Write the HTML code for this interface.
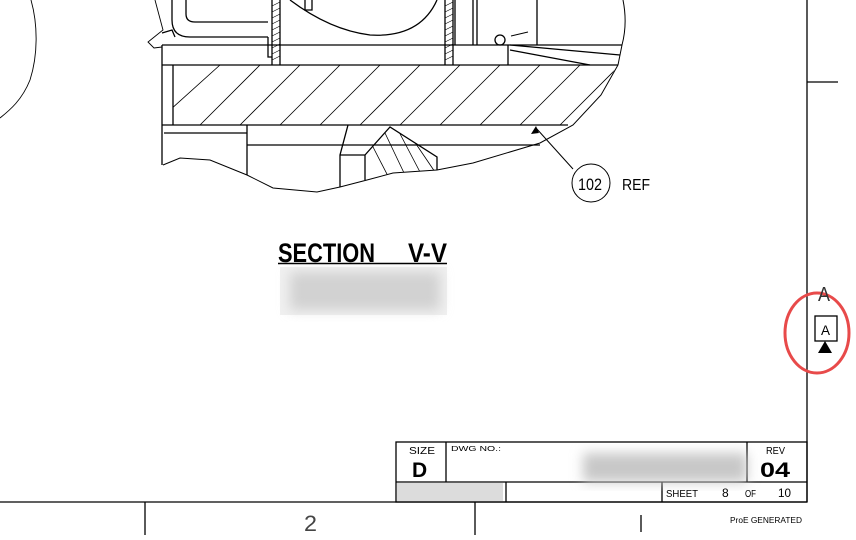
<!DOCTYPE html>
<html><head><meta charset="utf-8"><style>
html,body{margin:0;padding:0;background:#fff;}
svg{display:block;}
text{font-family:"Liberation Sans",sans-serif;fill:#000;}
</style></head><body>
<svg width="856" height="540" viewBox="0 0 856 540" xmlns="http://www.w3.org/2000/svg">
<defs>
<filter id="bl" x="-10%" y="-30%" width="120%" height="160%"><feGaussianBlur stdDeviation="6"/></filter>
<clipPath id="hc"><polygon points="173,65 617,65 601,95 573,125 173,125"/></clipPath>
<clipPath id="tc"><polygon points="365,155 390,127 437,157 437,170 393,173 367,180"/></clipPath>
</defs>
<g fill="none" stroke="#000" stroke-width="1.3">
<!-- left curve -->
<path d="M31,0 C38,25 38,55 30,80 C22,100 10,110 0,118" stroke-width="0.9"/>
<!-- borders -->
<line x1="807" y1="0" x2="807" y2="502"/>
<line x1="807" y1="82" x2="838" y2="82"/>
<line x1="0" y1="502" x2="807" y2="502"/>
<line x1="145" y1="502" x2="145" y2="535"/>
<line x1="475" y1="502" x2="475" y2="535"/>
<line x1="641" y1="515" x2="641" y2="532"/>
<!-- main block -->
<path d="M162,45 L622,45"/>
<path d="M162,65 L618,65"/>
<path d="M162,125 L568,125"/>
<path d="M162,45 L162,165"/>
<path d="M173,65 L173,125"/>
<path d="M623,0 C626,15 626,30 622,45 L618,65 L601,95 L573,125 L540,143 L473,163 L437,170 L393,173 L367,180 L340,187 L317,192 L273,188 L247,175 L210,160 L180,158 L163,165" stroke-width="1"/>
<path d="M164,133 L247,133 M247,125 L247,175 M247,145 L540,145"/>
<path d="M348,125 L340,155 L340,187 M340,155 L365,155 L365,180 M365,155 L390,127 L437,157 L437,170"/>
<g clip-path="url(#hc)" stroke-width="0.8">
<path d="M170,110 L220,65 M200,125 L260,65 M240,125 L300,65 M280,125 L340,65 M320,125 L380,65 M360,125 L420,65 M400,125 L460,65 M440,125 L500,65 M480,125 L540,65 M520,125 L580,65 M560,125 L620,65"/>
</g>
<g clip-path="url(#tc)" stroke-width="0.8">
<path d="M372,145 L390,180 M385,133 L405,175 M398,130 L420,172 M412,138 L435,172"/>
</g>
<!-- upper parts -->
<path d="M272,0 L272,65 M280,0 L280,65 M445,0 L445,65 M453,0 L453,65"/>
<g stroke-width="0.6"><path d="M272,6 L280,2 M272,12 L280,8 M272,18 L280,14 M272,24 L280,20 M272,30 L280,26 M272,36 L280,32 M272,42 L280,38 M272,48 L280,44 M272,54 L280,50 M272,60 L280,56 M445,6 L453,2 M445,12 L453,8 M445,18 L453,14 M445,24 L453,20 M445,30 L453,26 M445,36 L453,32 M445,42 L453,38 M445,48 L453,44 M445,54 L453,50 M445,60 L453,56"/></g>
<path d="M172,0 L172,20 Q172,37 190,37 L268,37 M186,0 L186,14 Q186,22 195,22 L268,22"/>
<path d="M268,37 L268,57 L272,57"/>
<path d="M290,0 Q330,30 370,35 Q420,38 437,0"/>
<path d="M305,0 L305,10 L312,10 L312,0"/>
<path d="M455,0 L455,45 M473,0 L473,45 M537,0 L537,45 M477,0 L477,45"/>
<path d="M508,45 L508,65 M510,50 L590,65 M510,45 L620,55"/>
<circle cx="500" cy="40" r="5"/>
<path d="M511,36 L528,32" stroke-width="0.9"/>
<path d="M155,0 L163,30 L153,38 L148,42 L154,48 L162,47" stroke-width="0.9"/>
<path d="M162,33 L172,30 L175,37"/>
<!-- leader -->
<path d="M573,169 L536,128" stroke-width="1"/>
<circle cx="591" cy="183" r="19" stroke-width="1"/>
<!-- title block -->
<rect x="396" y="442" width="411" height="60"/>
<line x1="396" y1="482" x2="807" y2="482"/>
<line x1="446" y1="442" x2="446" y2="482"/>
<line x1="747" y1="442" x2="747" y2="482"/>
<line x1="506" y1="482" x2="506" y2="502"/>
<line x1="662" y1="482" x2="662" y2="502"/>
<!-- marker -->
<rect x="815" y="316" width="22" height="25"/>
<ellipse cx="817" cy="333" rx="32" ry="40" stroke="#e84a4a" stroke-width="3"/>
</g>
<polygon points="536,126 531,134 539,133" fill="#000"/>
<polygon points="825,341 818,353 832,353" fill="#000"/>
<!-- blurs -->
<rect x="280" y="267" width="167" height="48" fill="#f0f0f0"/>
<rect x="290" y="272" width="150" height="38" fill="#d2d2d2" filter="url(#bl)"/>
<rect x="583" y="453" width="164" height="29" fill="#c8c8c8" filter="url(#bl)"/>
<rect x="397" y="483" width="106" height="18" fill="#dcdcdc"/>
<!-- text -->
<text x="578" y="190" font-size="17" textLength="24" lengthAdjust="spacingAndGlyphs">102</text>
<text x="622" y="190" font-size="16" textLength="28" lengthAdjust="spacingAndGlyphs">REF</text>
<text x="278" y="262" font-size="27" font-weight="bold" textLength="97" lengthAdjust="spacingAndGlyphs">SECTION</text>
<text x="408" y="262" font-size="27" font-weight="bold" textLength="39" lengthAdjust="spacingAndGlyphs">V-V</text>
<line x1="278" y1="263.5" x2="447" y2="263.5" stroke="#000" stroke-width="1.5"/>
<text x="818" y="301" font-size="20" textLength="12" lengthAdjust="spacingAndGlyphs" font-weight="normal" style="fill:#333">A</text>
<text x="821" y="335" font-size="14" textLength="9" lengthAdjust="spacingAndGlyphs">A</text>
<text x="409" y="454" font-size="10" textLength="26" lengthAdjust="spacingAndGlyphs">SIZE</text>
<text x="412" y="477" font-size="21" font-weight="bold">D</text>
<text x="451" y="451" font-size="7" textLength="50" lengthAdjust="spacingAndGlyphs">DWG NO.:</text>
<text x="766" y="454" font-size="10" textLength="19" lengthAdjust="spacingAndGlyphs">REV</text>
<text x="760" y="477" font-size="21" font-weight="bold" textLength="30" lengthAdjust="spacingAndGlyphs">04</text>
<text x="666" y="497" font-size="10" textLength="32" lengthAdjust="spacingAndGlyphs">SHEET</text>
<text x="722" y="497" font-size="12">8</text>
<text x="745" y="497" font-size="10" textLength="11" lengthAdjust="spacingAndGlyphs">OF</text>
<text x="778" y="497" font-size="12" textLength="13" lengthAdjust="spacingAndGlyphs">10</text>
<text x="304" y="531" font-size="22" style="fill:#444" textLength="13" lengthAdjust="spacingAndGlyphs">2</text>
<text x="730" y="523" font-size="8" textLength="72" lengthAdjust="spacingAndGlyphs">ProE GENERATED</text>
</svg>
</body></html>
